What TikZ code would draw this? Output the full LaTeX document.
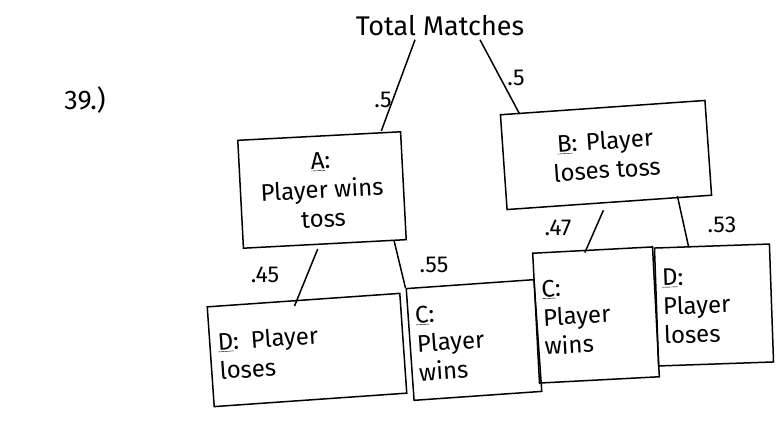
\documentclass[tikz,border=0pt]{standalone}
\usepackage{fontspec}
\setmainfont{Fira Sans}
\usetikzlibrary{calc}
\begin{document}
\begin{tikzpicture}[x=1pt,y=1pt,
  box/.style={draw,line width=1.5pt,inner sep=4pt,font=\fontsize{24}{29}\selectfont},
  lbl/.style={font=\fontsize{23}{27}\selectfont},
  conn/.style={line width=1.5pt}]
\useasboundingbox (0,0) rectangle (783,444);
\node[lbl,font=\fontsize{27}{31}\selectfont] (T) at (440,418) {Total Matches};
\node[lbl,font=\fontsize{27}{31}\selectfont] (Q) at (85,344) {39.)};
\node[box,minimum width=163,minimum height=108,rotate=3,align=center] (A) at (322,254) {\underline{A}:\\Player wins\\toss};
\node[box,minimum width=205,minimum height=95,rotate=4,align=center] (B) at (606,289) {\underline{B}: Player\\loses toss};
\node[box,minimum width=193,minimum height=100,rotate=4,align=left,text width=177] (D1) at (307,94) {\underline{D}: Player\\loses};
\node[box,minimum width=128,minimum height=112,rotate=4,align=left,text width=114] (C1) at (474,104) {\underline{C}:\\Player\\wins};
\node[box,minimum width=120,minimum height=130,rotate=3,align=left,text width=106] (C2) at (596,129) {\underline{C}:\\Player\\wins};
\node[box,minimum width=115,minimum height=118,rotate=2,align=left,text width=102] (D2) at (714,139) {\underline{D}:\\Player\\loses};
\draw[conn] ([xshift=-25pt]T.south) -- ([xshift=-20pt]A.north east);
\draw[conn] ([xshift=40pt]T.south) -- ([xshift=20pt]B.north west);
\draw[conn] ([xshift=75pt]A.south west) -- ([xshift=88pt]D1.north west);
\draw[conn] ([xshift=-13pt]A.south east) -- (C1.north west);
\draw[conn] ([xshift=97pt]B.south west) -- ([xshift=53pt]C2.north west);
\draw[conn] ([xshift=-35pt]B.south east) -- ([xshift=35pt]D2.north west);
\node[lbl] (p1) at (383,344) {.5};
\node[lbl] (p2) at (516,366) {.5};
\node[lbl] (p3) at (265,169) {.45};
\node[lbl] (p4) at (434,179) {.55};
\node[lbl] (p5) at (558,216) {.47};
\node[lbl] (p6) at (722,219) {.53};
\end{tikzpicture}
\end{document}
